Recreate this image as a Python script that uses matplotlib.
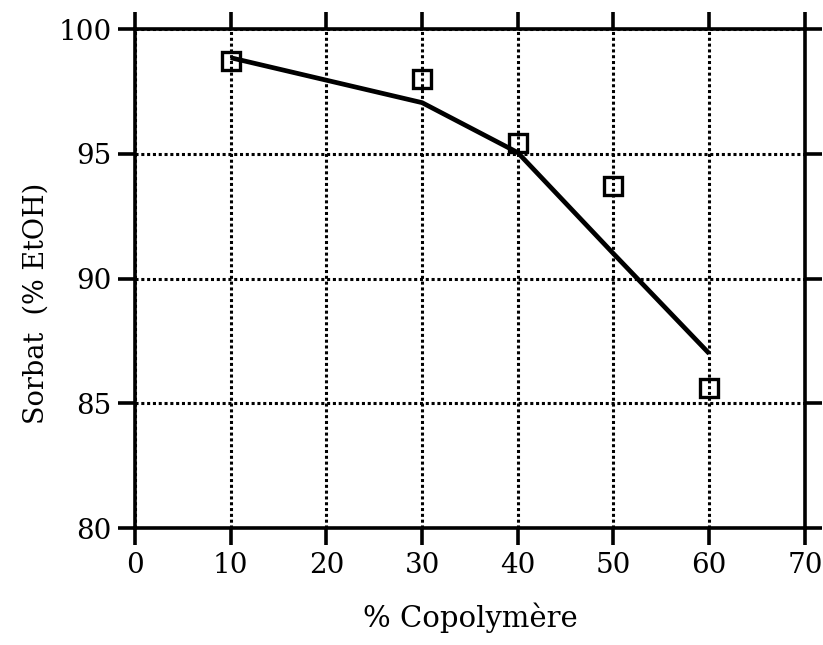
import numpy as np
import matplotlib
matplotlib.use('Agg')
import matplotlib.pyplot as plt

copo_fit = [10, 30, 40, 50, 60]
sorbat_fit = [98.85, 97.05, 95.05, 91.0, 87.0]

copo_meas = [10, 30, 40, 50, 60]
sorbat_meas = [98.7, 98.0, 95.45, 93.7, 85.6]

x_ticks = [0, 10, 20, 30, 40, 50, 60, 70]
y_ticks = [80, 85, 90, 95, 100]

plt.rcParams['font.family'] = ['DejaVu Serif']

fig = plt.figure(figsize=(8.23, 6.45), dpi=100)
ax = fig.add_axes([0.164, 0.181, 0.814, 0.774])

ax.plot(copo_fit, sorbat_fit, color='black', lw=3.4, zorder=3,
        solid_capstyle='butt')
ax.plot(copo_meas, sorbat_meas, linestyle='none', marker='s', ms=12.5,
        mfc='none', mec='black', mew=2.4, zorder=4)

ax.set_xlim(0, 70)
ax.set_ylim(80, 100)
ax.set_xticks(x_ticks)
ax.set_yticks(y_ticks)

ax.grid(True, color='black', linestyle=(0, (1, 0.9)), linewidth=2.2, zorder=1)
ax.set_axisbelow(True)

for s in ax.spines.values():
    s.set_linewidth(2.6)
ax.tick_params(direction='out', length=12, width=2.6, labelsize=20,
               top=True, right=True, labeltop=False, labelright=False, pad=5)

ax.set_xlabel('% Copolymère', fontsize=21, labelpad=17)
ax.set_ylabel('Sorbat  (% EtOH)', fontsize=19.5)
ax.yaxis.set_label_coords(-0.128, 0.45)

fig.savefig('out.png', dpi=100)
